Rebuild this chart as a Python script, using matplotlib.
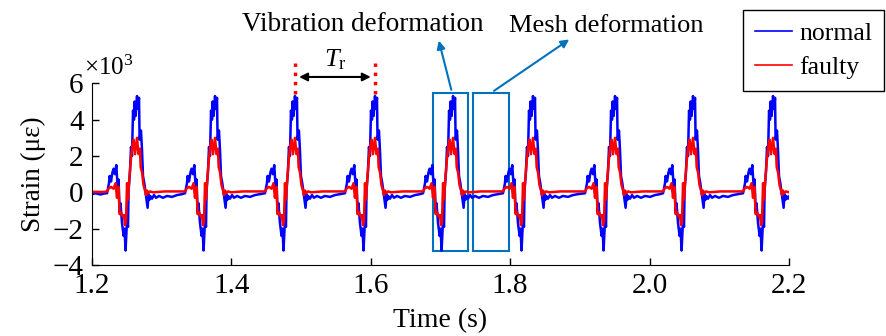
import numpy as np
import matplotlib
matplotlib.use('Agg')
import matplotlib.pyplot as plt
from matplotlib.patches import Rectangle

plt.rcParams['font.family'] = ['Liberation Serif', 'DejaVu Serif']
plt.rcParams['mathtext.fontset'] = 'custom'
plt.rcParams['mathtext.rm'] = 'Liberation Serif'
plt.rcParams['mathtext.it'] = 'Liberation Serif:italic'

# peak times of each pulse (s)
peak_times = [1.2646, 1.3765, 1.4912, 1.6060, 1.7180, 1.8327, 1.9504, 2.0623, 2.1771]

# strain before first pulse (x10^3 microstrain)
lead_times = [1.200, 1.205, 1.212, 1.218]
lead_normal = [-0.10, -0.05, -0.12, -0.06]
lead_faulty = [0.02, 0.03, 0.02, 0.03]

# one pulse, offset from its peak in ms
normal_offsets = [-43.0, -40.2, -39.3, -37.3, -35.2, -33.6, -31.6, -29.7, -27.8, -26.4,
                  -25.0, -23.7, -21.5, -19.2, -17.9, -16.4, -14.3, -12.9, -12.1, -10.0,
                  -8.6, -7.2, -5.7, -4.3, -3.4, -2.0, 0.0, 1.4, 2.9, 3.7,
                  5.7, 7.2, 8.6, 10.5, 11.9, 13.3, 15.2, 16.6, 17.9, 19.1,
                  21.5, 24.4, 27.3, 31.6, 37.3, 43.0, 50.2, 57.4, 64.6]
normal_values = [-0.05, 0.5, 0.9, 0.6, 1.1, 1.3, 1.0, 1.5, 0.3, 0.7,
                 -1.1, -0.6, -1.7, -2.4, -2.0, -3.2, -1.5, -1.9, 0.1, 1.2,
                 2.5, 2.0, 4.5, 4.0, 5.0, 4.2, 5.3, 4.6, 5.2, 2.9,
                 3.4, 2.3, 0.9, 0.5, 0.1, -0.3, -0.85, -0.1, -0.4, -0.2,
                 -0.35, -0.15, -0.3, -0.2, -0.3, -0.2, -0.25, -0.15, -0.1]

faulty_offsets = [-43.0, -40.9, -37.3, -33.6, -30.8, -28.7, -27.8, -26.4, -25.0, -23.0,
                  -20.8, -18.7, -17.2, -15.8, -14.3, -12.9, -11.5, -8.6, -6.5, -4.9,
                  -2.9, 0.0, 2.2, 4.3, 5.2, 7.2, 9.3, 11.5, 12.9, 14.3,
                  15.8, 18.7, 23.0, 40.0, 64.6]
faulty_values = [0.05, 0.2, 0.3, 0.2, 0.5, -0.3, 0.1, 0.3, -1.2, -1.1,
                 -1.3, -1.25, -1.8, -1.6, 0.5, -0.4, 0.5, 1.9, 2.6, 2.9,
                 2.1, 3.0, 2.1, 2.4, 1.4, 1.1, 0.4, 0.1, -0.15, 0.1,
                 -0.05, 0.05, 0.0, 0.05, 0.05]


def build_series(lead_vals, offsets, values):
    t = list(lead_times)
    v = list(lead_vals)
    for tp in peak_times:
        t += [tp + o / 1000.0 for o in offsets]
        v += values
    return np.array(t), np.array(v)


t_n, s_n = build_series(lead_normal, normal_offsets, normal_values)
t_f, s_f = build_series(lead_faulty, faulty_offsets, faulty_values)

fig = plt.figure(figsize=(8.87, 3.36), dpi=100)
ax = fig.add_axes([0.1037, 0.2113, 0.7858, 0.5407])

ax.plot(t_n, s_n, color='#0000FF', linewidth=1.8, label='normal')
ax.plot(t_f, s_f, color='#FF0000', linewidth=1.8, label='faulty')

ax.set_xlim(1.2, 2.2)
ax.set_ylim(-4, 6)
ax.set_xticks([1.2, 1.4, 1.6, 1.8, 2.0, 2.2])
ax.set_xticklabels(['1.2', '1.4', '1.6', '1.8', '2.0', '2.2'])
ax.set_yticks([-4, -2, 0, 2, 4, 6])
ax.tick_params(direction='in', length=5, width=1, labelsize=21)
ax.tick_params(axis='x', pad=6)
ax.tick_params(axis='y', pad=6)
ax.spines['top'].set_visible(False)
ax.spines['right'].set_visible(False)
ax.set_xlabel('Time (s)', fontsize=20, labelpad=6)
ax.set_ylabel('Strain (\u03bc\u03b5)', fontsize=19.5, labelpad=5)
ax.text(-0.011, 1.02, r'$\times$10$^3$', transform=ax.transAxes, fontsize=18,
        ha='left', va='bottom')

# period marker
box_col = '#0072BD'
for x in [peak_times[2], peak_times[3]]:
    ax.plot([x, x], [5.4, 7.1], color='#FF0000', linestyle=':', linewidth=2.5, clip_on=False)
ax.annotate('', xy=(peak_times[2] + 0.002, 6.35), xytext=(peak_times[3] - 0.002, 6.35),
            arrowprops=dict(arrowstyle='<|-|>', color='black', lw=1.5, mutation_scale=12),
            annotation_clip=False)
ax.text((peak_times[2] + peak_times[3]) / 2, 6.65, r'$T_\mathrm{r}$', fontsize=19,
        ha='center', va='bottom')

# deformation regions
ax.add_patch(Rectangle((1.689, -3.23), 0.0505, 8.69, fill=False, edgecolor=box_col,
                       linewidth=1.5, clip_on=False))
ax.add_patch(Rectangle((1.7466, -3.23), 0.0514, 8.69, fill=False, edgecolor=box_col,
                       linewidth=1.5, clip_on=False))
ax.annotate('', xy=(1.6966, 8.5), xytext=(1.7165, 5.5),
            arrowprops=dict(arrowstyle='-|>', color=box_col, lw=1.5, mutation_scale=12),
            annotation_clip=False)
ax.annotate('', xy=(1.888, 8.5), xytext=(1.7735, 5.5),
            arrowprops=dict(arrowstyle='-|>', color=box_col, lw=1.5, mutation_scale=12),
            annotation_clip=False)
ax.text(1.589, 9.25, 'Vibration deformation', fontsize=19.5, ha='center', va='center')
ax.text(1.938, 9.15, 'Mesh deformation', fontsize=19, ha='center', va='center')

leg = fig.legend(loc='upper left', bbox_to_anchor=(743 / 887, 1 - 10 / 336), fontsize=18.5,
                 frameon=True, fancybox=False, edgecolor='black', framealpha=1,
                 borderaxespad=0, handlelength=1.45, handletextpad=0.3,
                 labelspacing=0.45, borderpad=0.45)
leg.get_frame().set_linewidth(1.0)
for line in leg.get_lines():
    line.set_linewidth(1.2)

fig.savefig('out.png', dpi=100)
